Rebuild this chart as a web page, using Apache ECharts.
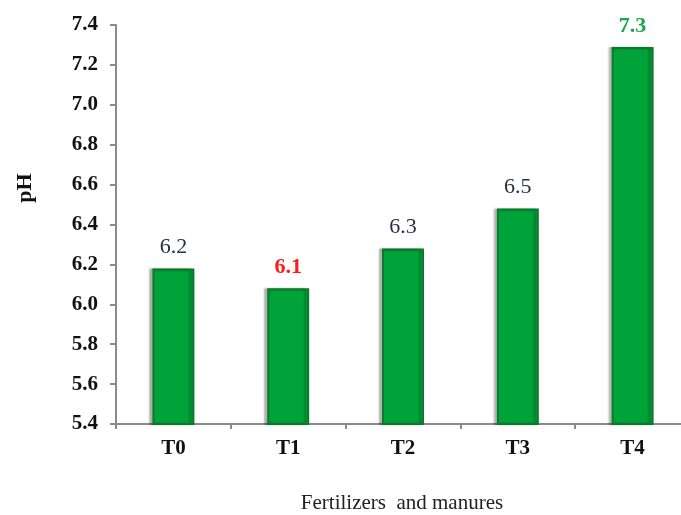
<!DOCTYPE html>
<html><head><meta charset="utf-8">
<script src="https://cdn.jsdelivr.net/npm/echarts@6/dist/echarts.min.js"></script>
<style>html,body{margin:0;padding:0;background:#fff}#c{width:681px;height:515px}</style>
</head><body><div id="c"></div>
<script>
const categories = ['T0','T1','T2','T3','T4'];
const phValues = [6.18, 6.08, 6.28, 6.48, 7.29];
const valueLabels = ['6.2','6.1','6.3','6.5','7.3'];
const yTicks = [5.4, 5.6, 5.8, 6.0, 6.2, 6.4, 6.6, 6.8, 7.0, 7.2, 7.4];
const xTitle = 'Fertilizers  and manures';
const yTitle = 'pH';

const labelStyles = [
  {color:'#2a2f45', fontWeight:'normal'},
  {color:'#ff1a1a', fontWeight:'bold'},
  {color:'#2a2f45', fontWeight:'normal'},
  {color:'#2a2f45', fontWeight:'normal'},
  {color:'#19a84a', fontWeight:'bold'}
];
const serif = '"Liberation Serif", "DejaVu Serif", serif';
const chart = echarts.init(document.getElementById('c'));
chart.setOption({
  animation:false,
  grid:{left:116, top:25, right:-9, bottom:91, containLabel:false, outerBoundsMode:'none'},
  xAxis:{
    type:'category', data:categories,
    axisLine:{lineStyle:{color:'#8a8a8a', width:2}},
    axisTick:{show:true, length:5, lineStyle:{color:'#8a8a8a', width:2}},
    axisLabel:{fontFamily:serif, fontWeight:'bold', fontSize:21, color:'#111', margin:14}
  },
  yAxis:{
    type:'value', min:yTicks[0], max:yTicks[yTicks.length-1], interval:0.2,
    axisLine:{show:true, lineStyle:{color:'#8a8a8a', width:2}},
    axisTick:{show:true, length:6, lineStyle:{color:'#8a8a8a', width:2}},
    splitLine:{show:false},
    axisLabel:{fontFamily:serif, fontWeight:'bold', fontSize:21, color:'#111', margin:18,
      formatter:v=>v.toFixed(1)}
  },
  graphic:[
    {type:'text', x:25, y:188, rotation:Math.PI/2,
      style:{text:yTitle, font:'bold 22px "Liberation Serif", serif', fill:'#111', textAlign:'center', textVerticalAlign:'middle'}},
    {type:'text', x:402, y:503,
      style:{text:xTitle, font:'21px "Liberation Serif", serif', fill:'#222', textAlign:'center', textVerticalAlign:'middle'}}
  ],
  series:[{
    type:'bar', barWidth:42,
    data:phValues.map((v,i)=>({value:v, label:{formatter:valueLabels[i], color:labelStyles[i].color, fontWeight:labelStyles[i].fontWeight}})),
    itemStyle:{color:'#00a23a', borderColor:'#0a7a2a', borderWidth:2,
      shadowColor:'rgba(0,0,0,0.25)', shadowBlur:2, shadowOffsetX:-3, shadowOffsetY:0},
    label:{show:true, position:'top', distance:10, fontFamily:serif, fontSize:22}
  }]
});
</script></body></html>
